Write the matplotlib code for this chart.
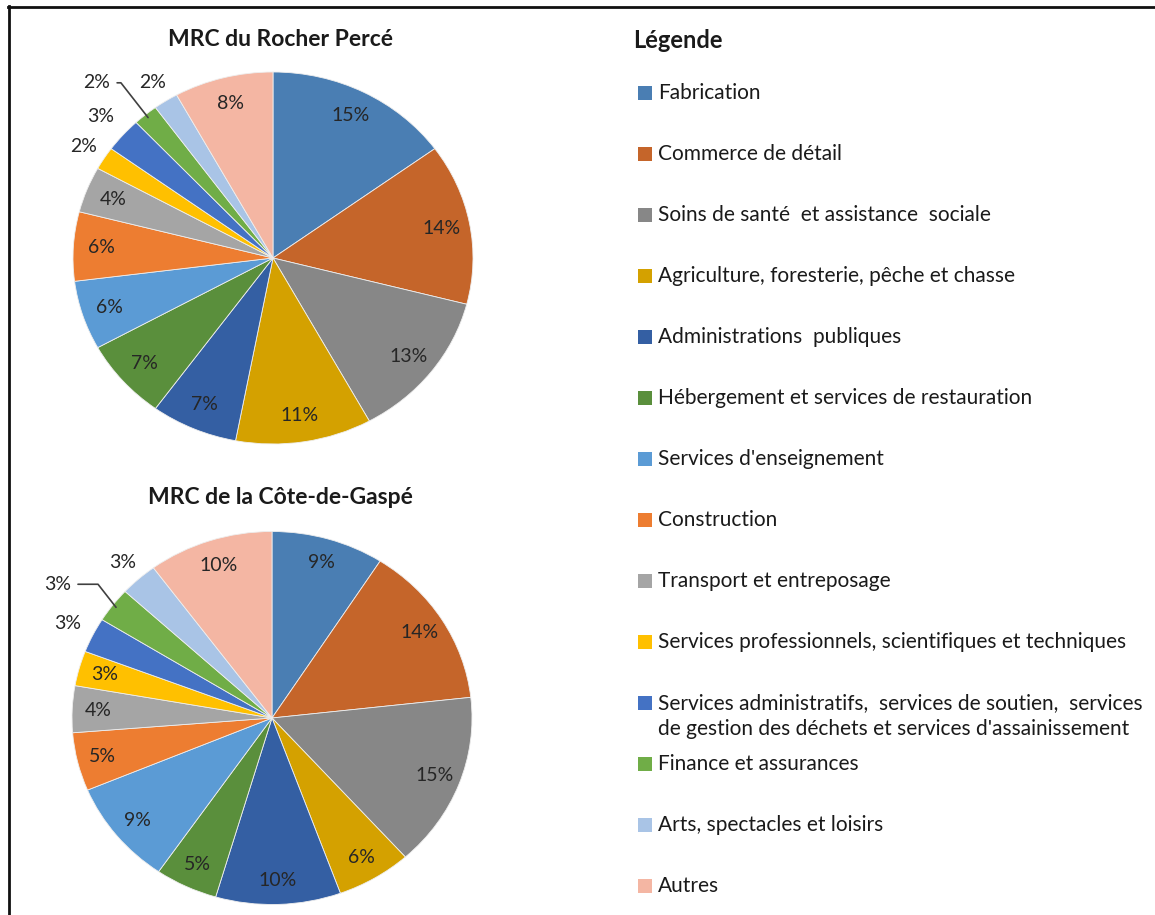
import numpy as np
import matplotlib
matplotlib.use("Agg")
import matplotlib.pyplot as plt
from matplotlib.lines import Line2D
from matplotlib.patches import Rectangle

plt.rcParams["font.family"] = ["Lato", "DejaVu Sans"]

categories = [
    "Fabrication",
    "Commerce de détail",
    "Soins de santé  et assistance  sociale",
    "Agriculture, foresterie, pêche et chasse",
    "Administrations  publiques",
    "Hébergement et services de restauration",
    "Services d'enseignement",
    "Construction",
    "Transport et entreposage",
    "Services professionnels, scientifiques et techniques",
    "Services administratifs,  services de soutien,  services\nde gestion des déchets et services d'assainissement",
    "Finance et assurances",
    "Arts, spectacles et loisirs",
    "Autres",
]
colors = ["#4a7eb3", "#c5652a", "#878787", "#d4a100", "#345fa3", "#5a8f3c",
          "#5b9bd5", "#ed7d31", "#a5a5a5", "#ffc000", "#4472c4", "#70ad47",
          "#a9c4e6", "#f4b6a3"]

rocher_perce = [15, 14, 13, 11, 7, 7, 6, 6, 4, 2, 3, 2, 2, 8]
cote_gaspe = [9, 14, 15, 6, 10, 5, 9, 5, 4, 3, 3, 3, 3, 10]

# label placement: radius per slice, "L" = outside with leader line
place_rp = [0.86] * 9 + [1.12, 1.15, "L", 1.12, 0.86]
place_cg = [0.87] * 10 + [1.14, "L", 1.12, 0.86]

W, H = 1155, 915
fig = plt.figure(figsize=(W / 100, H / 100), dpi=100)


def px_box(cx, cy, rx, ry):
    return [(cx - rx) / W, 1 - (cy + ry) / H, 2 * rx / W, 2 * ry / H]


def draw_pie(box, values, places, title, title_y):
    ax = fig.add_axes(box)
    wedges, _ = ax.pie(values, colors=colors, startangle=90, counterclock=False,
                       wedgeprops=dict(edgecolor="#eeeeee", linewidth=0.6))
    ax.set_aspect("auto")
    ax.set_xlim(-1, 1)
    ax.set_ylim(-1, 1)
    ax.axis("off")
    for w, v, p in zip(wedges, values, places):
        mid = np.deg2rad((w.theta1 + w.theta2) / 2)
        txt = f"{v}%"
        if p == "L":
            a = mid + np.deg2rad(3.5)
            ax.annotate(txt, xy=(0.98 * np.cos(mid), 0.98 * np.sin(mid)),
                        xytext=(1.29 * np.cos(a), 1.29 * np.sin(a)),
                        ha="center", va="center", fontsize=14, color="#262626",
                        arrowprops=dict(arrowstyle="-", color="#404040", lw=1.2,
                                        relpos=(1, 0.5), shrinkA=3, shrinkB=0,
                                        connectionstyle="angle,angleA=0,angleB=128,rad=0"))
        else:
            ax.text(p * np.cos(mid), p * np.sin(mid), txt, ha="center", va="center",
                    fontsize=14, color="#262626")
    fig.text(box[0] + box[2] / 2 + 8 / W, 1 - title_y / H, title, ha="center", va="center",
             fontsize=16.5, fontweight="bold", color="#1a1a1a")


draw_pie(px_box(273, 258, 200, 186), rocher_perce, place_rp, "MRC du Rocher Percé", 40)
draw_pie(px_box(272, 718, 200, 186.5), cote_gaspe, place_cg, "MRC de la Côte-de-Gaspé", 497)

# legend
fig.text(633 / W, 1 - 40 / H, "Légende", ha="left", va="center",
         fontsize=17, fontweight="bold", color="#1a1a1a")
for i, (cat, col) in enumerate(zip(categories, colors)):
    y = 93 + 61 * i
    fig.add_artist(Rectangle((638 / W, 1 - (y + 7) / H), 14 / W, 14 / H,
                             transform=fig.transFigure, facecolor=col, edgecolor="none"))
    for k, line in enumerate(cat.split("\n")):
        fig.text(658 / W, 1 - (y + 26 * k) / H, line, ha="left", va="center",
                 fontsize=15, color="#1a1a1a")

# frame (top and left edges only)
fig.add_artist(Line2D([8 / W, 1], [1 - 7 / H, 1 - 7 / H], transform=fig.transFigure,
                      color="#111111", lw=2))
fig.add_artist(Line2D([9 / W, 9 / W], [0, 1 - 6 / H], transform=fig.transFigure,
                      color="#111111", lw=2))

fig.savefig("out.png", dpi=100, facecolor="white")
